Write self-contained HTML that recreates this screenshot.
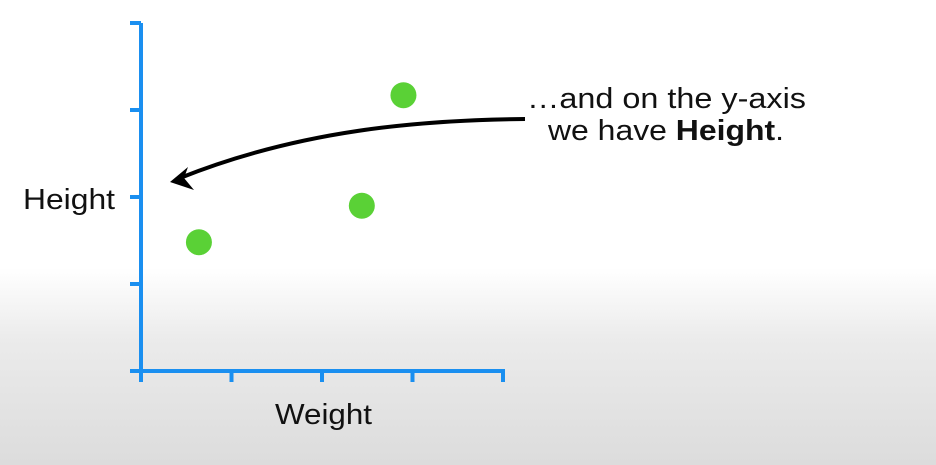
<!DOCTYPE html>
<html><head><meta charset="utf-8"><style>
html,body{margin:0;padding:0;width:936px;height:465px;overflow:hidden}
body{background:linear-gradient(to bottom,#fff 0,#fff 268px,#ebebeb 340px,#dcdcdc 465px);font-family:"Liberation Sans",sans-serif}
svg{position:absolute;left:0;top:0}
</style></head><body>
<svg width="936" height="465">
<g id="axes"></g><g id="points"></g>
<text x="23" y="209" font-size="29" textLength="92" lengthAdjust="spacingAndGlyphs" fill="#111">Height</text>
<text x="275" y="424" font-size="29" textLength="97" lengthAdjust="spacingAndGlyphs" fill="#111">Weight</text>
<path d="M525,119 C420,120 300,130 180,178" fill="none" stroke="#000" stroke-width="4"/>
<path d="M170,182 L188,167 L184,178 L194,190 Z" fill="#000"/>
<text x="527" y="108" font-size="29" textLength="279" lengthAdjust="spacingAndGlyphs" fill="#111">…and on the y-axis</text>
<text x="548" y="140" font-size="29" textLength="236" lengthAdjust="spacingAndGlyphs" fill="#111">we have <tspan font-weight="bold">Height</tspan>.</text>
</svg>
<script>
const xTicks=[0,1,2,3,4];
const yTicks=[0,1,2,3,4];
const xValues=[0.64,2.44,2.9];
const yValues=[1.48,1.9,3.17];
const X0=141,XW=90.5,Y0=371,YH=87;
const sx=v=>X0+v*XW, sy=v=>Y0-v*YH;
const NS="http://www.w3.org/2000/svg";
const axes=document.getElementById('axes'), pts=document.getElementById('points');
const C="#1a8ff0";
function ln(x1,y1,x2,y2,name){const l=document.createElementNS(NS,'line');
l.setAttribute('x1',x1);l.setAttribute('y1',y1);l.setAttribute('x2',x2);l.setAttribute('y2',y2);
l.setAttribute('stroke',C);l.setAttribute('stroke-width',4);


axes.appendChild(l);}
ln(sx(0),sy(4),sx(0),Y0+2,'y-axis');
ln(X0-2,Y0,sx(4)+2,Y0,'x-axis');
yTicks.forEach(t=>ln(X0-11,sy(t),X0,sy(t),'y-tick'));
xTicks.forEach(t=>ln(sx(t),Y0,sx(t),Y0+11,'x-tick'));
xValues.forEach((v,i)=>{const c=document.createElementNS(NS,'circle');
c.setAttribute('cx',sx(v));c.setAttribute('cy',sy(yValues[i]));c.setAttribute('r',13);c.setAttribute('fill','#5ad136');


pts.appendChild(c);});
</script>
</body></html>
